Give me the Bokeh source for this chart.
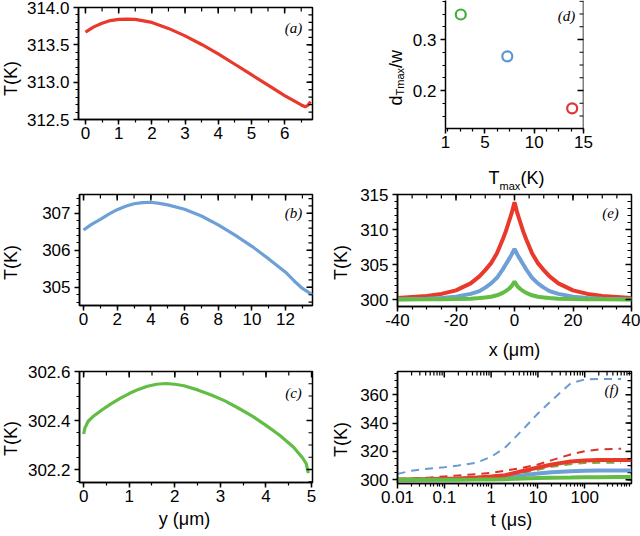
import numpy as np
from bokeh.plotting import figure
from bokeh.models import (FixedTicker, Label, Range1d, NumeralTickFormatter,
                          ColumnDataSource, Span)
from bokeh.embed import file_html
from bokeh.resources import INLINE

# ---------------- data ----------------
# (a) red profile along y
a_y = [0, 0.25, 0.5, 0.75, 1.0, 1.25, 1.5, 2.0, 2.5, 3.0, 3.5, 4.0, 4.5, 5.0, 5.5, 6.0, 6.3, 6.5, 6.62, 6.7, 6.78]
a_T = [313.67, 313.74, 313.79, 313.825, 313.84, 313.845, 313.84, 313.80, 313.72, 313.62, 313.505, 313.38,
       313.24, 313.10, 312.96, 312.82, 312.745, 312.695, 312.67, 312.69, 312.74]

# (b) blue profile along y
b_y = [0, 0.5, 1, 1.5, 2, 2.5, 3, 3.5, 4, 4.5, 5, 6, 7, 8, 9, 10, 11, 12, 12.5, 13, 13.6]
b_T = [306.55, 306.71, 306.84, 306.98, 307.10, 307.19, 307.26, 307.29, 307.30, 307.27, 307.23, 307.11,
       306.93, 306.69, 306.41, 306.11, 305.77, 305.41, 305.18, 304.97, 304.80]

# (c) green profile along y
c_y = [0, 0.03, 0.1, 0.2, 0.4, 0.6, 0.8, 1.0, 1.2, 1.4, 1.6, 1.8, 2.0, 2.2, 2.5, 2.8, 3.1, 3.4, 3.7,
       4.0, 4.3, 4.6, 4.8, 4.88, 4.93]
c_T = [302.345, 302.37, 302.397, 302.415, 302.443, 302.468, 302.49, 302.51, 302.527, 302.54, 302.548,
       302.551, 302.548, 302.542, 302.525, 302.504, 302.48, 302.45, 302.418, 302.38, 302.34, 302.292,
       302.248, 302.225, 302.185]

# (d) d_Tmax/w versus Tmax
d_Tmax = [2.55, 7.27, 13.85]
d_ratio = [0.349, 0.267, 0.165]
d_colors = ["#3fae3a", "#5b97d1", "#e03535"]

# (e) lateral profiles
e_x = [-40, -30, -25, -20, -15, -12, -10, -8, -6, -4, -3, -2, -1, 0,
       1, 2, 3, 4, 6, 8, 10, 12, 15, 20, 25, 30, 40]
e_red = [300.2, 300.5, 300.8, 301.3, 302.3, 303.3, 304.2, 305.2, 306.6, 308.6, 309.7, 311.0, 312.3, 313.9,
         312.3, 311.0, 309.7, 308.6, 306.6, 305.2, 304.2, 303.3, 302.3, 301.3, 300.8, 300.5, 300.2]
e_blue = [300.05, 300.1, 300.2, 300.4, 300.8, 301.2, 301.7, 302.3, 303.1, 304.3, 305.0, 305.7, 306.4, 307.24,
          306.4, 305.7, 305.0, 304.3, 303.1, 302.3, 301.7, 301.2, 300.8, 300.4, 300.2, 300.1, 300.05]
e_green = [300.0, 300.02, 300.04, 300.06, 300.12, 300.2, 300.3, 300.4, 300.6, 300.95, 301.2, 301.5, 301.9, 302.57,
           301.9, 301.5, 301.2, 300.95, 300.6, 300.4, 300.3, 300.2, 300.12, 300.06, 300.04, 300.02, 300.0]

# (f) time evolution
f_t_dash = [0.01, 0.02, 0.05, 0.1, 0.2, 0.5, 1, 2, 5, 10, 20, 50, 100, 200, 600]
f_blue_dash = [304.2, 306.4, 308.0, 308.9, 310.1, 312.2, 316.2, 322.8, 336.2, 346.8, 356.2, 368.0, 370.8, 371.1, 371.1]
f_red_dash = [300.5, 300.9, 301.6, 302.4, 303.1, 304.0, 304.9, 306.4, 308.7, 310.8, 313.9, 317.9, 320.2, 321.4, 321.9]
f_green_dash = [300.0, 300.2, 300.5, 300.7, 301.0, 301.4, 301.9, 302.8, 304.9, 307.1, 309.2, 311.0, 311.8, 312.0, 312.0]
f_t = [0.01, 0.02, 0.05, 0.1, 0.2, 0.5, 1, 2, 5, 10, 20, 50, 100, 200, 500, 1000]
f_red = [300.2, 300.3, 300.5, 300.7, 300.9, 301.6, 302.35, 303.3, 306.4, 308.7, 310.8, 312.9, 313.6, 313.9, 313.9, 313.9]
f_blue = [300.0, 300.05, 300.1, 300.2, 300.4, 300.6, 300.9, 301.6, 303.3, 304.5, 305.4, 306.1, 306.4, 306.6, 306.6, 306.6]
f_green = [300.0, 300.0, 300.02, 300.05, 300.1, 300.15, 300.2, 300.45, 300.9, 301.2, 301.4, 301.6, 301.8, 301.85, 301.9, 301.9]

# ---------------- styling helpers ----------------
FONT = "Liberation Sans"
SERIF = "Liberation Serif"
RED = "#e8392b"
BLUE = "#6ea0d7"
GREEN = "#62bd45"
TICK_FS = "17px"
LAB_FS = "18px"
PAGE_W, PAGE_H = 640, 536
LW = 1.5


def steps(a, b, s):
    return [round(v, 6) for v in np.arange(a, b + s / 2, s)]


def make_fig(pos, size, borders, xr, yr, xlog=False):
    (px, py), (w, h), (bl, br, bt, bb) = pos, size, borders
    p = figure(width=w, height=h, min_border_left=bl, min_border_right=br,
               min_border_top=bt, min_border_bottom=bb,
               x_range=Range1d(*xr), y_range=Range1d(*yr),
               x_axis_type="log" if xlog else "linear",
               output_backend="svg", toolbar_location=None,
               styles={"position": "absolute", "left": f"{px}px", "top": f"{py}px"})
    p.xgrid.visible = False
    p.ygrid.visible = False
    p.outline_line_color = "black"
    p.outline_line_width = LW
    p.background_fill_color = "white"
    p.border_fill_color = None
    p._fw = w - bl - br
    p._fh = h - bt - bb
    return p


def style(ax, ticks, minor, fmt=None, standoff=4):
    ax.ticker = FixedTicker(ticks=list(ticks), minor_ticks=list(minor))
    if fmt is not None:
        ax.formatter = NumeralTickFormatter(format=fmt)
    ax.axis_line_color = "black"
    ax.axis_line_width = LW
    ax.major_tick_line_color = "black"
    ax.major_tick_line_width = LW
    ax.minor_tick_line_color = "black"
    ax.minor_tick_line_width = 1.2
    ax.major_tick_out = 5
    ax.major_tick_in = 0
    ax.minor_tick_out = 3
    ax.minor_tick_in = 0
    ax.major_label_text_font = FONT
    ax.major_label_text_font_size = TICK_FS
    ax.major_label_text_color = "black"
    ax.major_label_standoff = standoff


def mirror(p, xt, xm, yt, ym, xr, yr, xlog=False, top=True):
    """inward tick marks on the top and right edges, drawn as short dash markers
    lying fully inside the frame."""
    lo_x, hi_x = xr
    lo_y, hi_y = yr
    if top:
        for ticks, L, w in ((xt, 5, LW), (xm, 3, 1.2)):
            xs = [v for v in ticks if lo_x < v < hi_x]
            yc = hi_y - (hi_y - lo_y) / p._fh * (L / 2 + 0.5)
            p.scatter(xs, [yc] * len(xs), marker="dash", angle=np.pi / 2, size=L + 1,
                      line_color="black", line_width=w)
    for ticks, L, w in ((yt, 5, LW), (ym, 3, 1.2)):
        ys = [v for v in ticks if lo_y < v < hi_y]
        if xlog:
            xc = hi_x / (hi_x / lo_x) ** ((L / 2 + 0.5) / p._fw)
        else:
            xc = hi_x - (hi_x - lo_x) / p._fw * (L / 2 + 0.5)
        p.scatter([xc] * len(ys), ys, marker="dash", size=L + 1,
                  line_color="black", line_width=w)


# ---------------- (a) ----------------
XR, YR = (-0.21, 6.84), (312.5, 314.0)
pa = make_fig((0, 0), (330, 160), (78, 18, 7, 41), XR, YR)
pa.line(a_y, a_T, line_color=RED, line_width=3.2)
xt, xm, yt, ym = list(range(0, 7)), steps(0, 6.5, 0.5), [312.5, 313.0, 313.5, 314.0], steps(312.5, 314.0, 0.1)
style(pa.xaxis[0], xt, xm, standoff=2)
style(pa.yaxis[0], yt, ym, fmt="0.0")
mirror(pa, xt, xm, yt, ym, XR, YR)

# ---------------- (b) ----------------
XR, YR = (-0.24, 13.6), (304.51, 307.51)
pb = make_fig((0, 160), (330, 180), (79, 18, 34, 35), XR, YR)
pb.line(b_y, b_T, line_color=BLUE, line_width=3.2)
xt, xm, yt, ym = list(range(0, 13, 2)), steps(0, 13, 1), [305, 306, 307], steps(304.6, 307.4, 0.2)
style(pb.xaxis[0], xt, xm, standoff=2)
style(pb.yaxis[0], yt, ym, fmt="0")
mirror(pb, xt, xm, yt, ym, XR, YR)

# ---------------- (c) ----------------
XR, YR = (-0.09, 5.02), (302.147, 302.6)
pc = make_fig((0, 340), (330, 196), (79, 18, 31, 54), XR, YR)
pc.line(c_y, c_T, line_color=GREEN, line_width=3.2)
xt, xm, yt, ym = list(range(0, 6)), steps(0, 5, 0.5), [302.2, 302.4, 302.6], steps(302.15, 302.6, 0.05)
style(pc.xaxis[0], xt, xm, standoff=2)
style(pc.yaxis[0], yt, ym, fmt="0.0")
mirror(pc, xt, xm, yt, ym, XR, YR)

# ---------------- (d) ----------------
XR, YR = (1, 15), (0.1255, 0.3765)
pd_ = make_fig((330, 0), (310, 160), (115, 57, 0, 32), XR, YR)
pd_.outline_line_color = None
src_d = ColumnDataSource(dict(x=d_Tmax, y=d_ratio, c=d_colors))
pd_.scatter("x", "y", source=src_d, marker="circle", size=10, fill_color=None,
            line_color="c", line_width=2.2)
xt, xm, yt, ym = [1, 5, 10, 15], steps(1.25, 15, 1.25), [0.2, 0.3], steps(0.125, 0.375, 0.025)
style(pd_.xaxis[0], xt, xm, fmt="0", standoff=2)
style(pd_.yaxis[0], yt, ym, fmt="0.0")
pd_.add_layout(Span(location=15, dimension="height", line_color="black", line_width=LW))
mirror(pd_, xt, xm, yt, ym, XR, YR, top=False)

# ---------------- (e) ----------------
XR, YR = (-40, 40), (299.0, 315)
pe = make_fig((330, 160), (310, 180), (67, 9, 34, 34), XR, YR)
pe.line(e_x, e_red, line_color=RED, line_width=4)
pe.line(e_x, e_blue, line_color=BLUE, line_width=4)
pe.line(e_x, e_green, line_color=GREEN, line_width=4)
xt, xm, yt, ym = [-40, -20, 0, 20, 40], steps(-40, 40, 5), [300, 305, 310, 315], steps(300, 315, 1)
style(pe.xaxis[0], xt, xm, fmt="0", standoff=2)
style(pe.yaxis[0], yt, ym, fmt="0")
mirror(pe, xt, xm, yt, ym, XR, YR)

# ---------------- (f) ----------------
XR, YR = (0.01, 1000), (297.4, 376.4)
pf = make_fig((330, 340), (310, 196), (67, 9, 31, 53), XR, YR, xlog=True)
pf.line(f_t_dash, f_blue_dash, line_color="#6a9bd1", line_width=2, line_dash="8 6")
pf.line(f_t_dash, f_green_dash, line_color="#7fa83c", line_width=2, line_dash="8 6")
pf.line(f_t_dash, f_red_dash, line_color="#d9342b", line_width=2, line_dash="8 6")
pf.line(f_t, f_blue, line_color=BLUE, line_width=4)
pf.line(f_t, f_red, line_color=RED, line_width=4)
pf.line(f_t, f_green, line_color=GREEN, line_width=4)
xt = [0.01, 0.1, 1, 10, 100]
xm = [k * 10.0 ** e for e in range(-2, 3) for k in range(2, 10)]
yt, ym = [300, 320, 340, 360], steps(300, 375, 5)
style(pf.xaxis[0], xt, xm, fmt="0.[00]", standoff=2)
style(pf.yaxis[0], yt, ym, fmt="0")
mirror(pf, xt, xm, yt, ym, XR, YR, xlog=True)

# ---------------- transparent overlay carrying the texts (page coordinates) ----------------
ov = figure(width=PAGE_W - 4, height=PAGE_H - 4, x_range=Range1d(0, PAGE_W - 4), y_range=Range1d(PAGE_H - 4, 0),
            x_axis_location=None, y_axis_location=None, min_border=0,
            output_backend="svg", toolbar_location=None,
            styles={"position": "absolute", "left": "0px", "top": "0px", "pointer-events": "none"})
ov.outline_line_color = None
ov.background_fill_color = None
ov.border_fill_color = None
ov.xgrid.visible = False
ov.ygrid.visible = False


def lab(text, x, y, size=LAB_FS, angle=0.0, align="center", baseline="middle",
        font=FONT, fstyle="normal"):
    ov.add_layout(Label(x=x, y=y, text=text, angle=angle, text_align=align,
                        text_baseline=baseline, text_font=font, text_font_size=size,
                        text_font_style=fstyle, text_color="black"))


UP = np.pi / 2
# panel tags
for tag, x, y in (("(a)", 293, 27), ("(b)", 293, 212), ("(c)", 293, 392),
                  ("(d)", 566, 15), ("(e)", 610, 212), ("(f)", 611, 389)):
    lab(tag, x, y, size="15px", font=SERIF, fstyle="italic")
# axis titles
for x, y in ((10, 78), (10, 262), (10, 438), (340, 262), (340, 439)):
    lab("T(K)", x, y, angle=UP)
lab("y (\u03bcm)", 184, 518)
lab("x (\u03bcm)", 514, 349)
lab("t (\u03bcs)", 511, 519)
lab("d", 395, 105, angle=UP, align="left", baseline="alphabetic")
lab("Tmax", 399, 95, size="11px", angle=UP, align="left", baseline="alphabetic")
lab("/w", 395, 67.5, angle=UP, align="left", baseline="alphabetic")
lab("T", 488, 177, align="left", baseline="alphabetic")
lab("max", 499, 185, size="11px", align="left", baseline="alphabetic")
lab("(K)", 520, 177, align="left", baseline="alphabetic")

with open("out.html", "w") as fh:
    fh.write(file_html([pa, pb, pc, pd_, pe, pf, ov], INLINE))
